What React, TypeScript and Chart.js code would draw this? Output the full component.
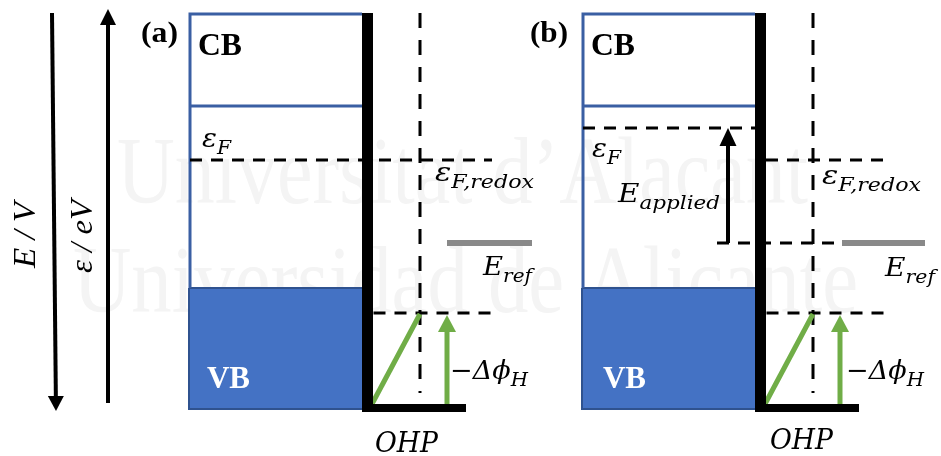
import { useEffect, useRef } from "react";
import { Chart, registerables } from "chart.js";
Chart.register(...registerables);

const WIDTH = 941;
const HEIGHT = 456;

// ---- panels ----
const PANEL_NAMES = ["(a)", "(b)"];
const PANEL_SHIFT = [0, 393];

// ---- energy levels (vertical diagram coordinate, px from top) ----
const BAND_TOP = 14;
const CB_EDGE = 106;
const VB_EDGE = 288;
const BAND_BOTTOM = 409;
const FERMI_LEVEL = [160, 128]; // εF in panel (a), (b)
const REDOX_LEVEL = 160;
const REF_LEVEL = 243;
const OHP_LEVEL = 313;
const METAL_LEVEL = 408;

// ---- horizontal positions (panel a; panel b shifted) ----
const SEMI_X = [190, 362];
const VB_X = [189, 365];
const INTERFACE_X = 367.5;
const INTERFACE_Y = [13, 412];
const OHP_X = 420;
const OHP_Y = [13, 393];
const LEVEL_END_X = 492;
const METAL_END_X = 466;
const REF_X = [447, 532];
const REF_X_B = [842, 925];
const REDOX_X_B = [766, 885];
const FERMI_X_B = [583, 755];
const APPLIED_BASE_X = [717, 842];
const DIAG_FROM = [372, 404];
const DIAG_TO = [420, 314];

// ---- arrows: [fromX, fromY, tipX, tipY] ----
const AXIS_ARROWS = [
  [52, 13, 56, 411],
  [108, 403, 108, 9],
];
const DELTA_ARROW = [447, 404, 447, 315];
const APPLIED_ARROW = [728, 243, 728, 128];

// ---- watermark ----
const WATERMARK_LINES = ["Universitat d\u2019Alacant", "Universidad de Alicante"];
const WATERMARK_POS = [
  [117, 203, 691],
  [73, 312, 785],
];

// ---- text labels: parts [text, isSubscript], x, y (baseline), width ----
type Part = [string, boolean];
type Label = { parts: Part[]; x: number; y: number; w: number; kind: string; rot?: boolean };
const LABELS: Label[] = [
  { parts: [["E / V", false]], x: 35, y: 268, w: 66, kind: "axis", rot: true },
  { parts: [["\u03b5 / eV", false]], x: 92, y: 273, w: 73, kind: "axis", rot: true },
  { parts: [[PANEL_NAMES[0], false]], x: 141, y: 42, w: 37, kind: "title" },
  { parts: [[PANEL_NAMES[1], false]], x: 530, y: 42, w: 38, kind: "title" },
  // panel a
  { parts: [["CB", false]], x: 198, y: 55, w: 44, kind: "band" },
  { parts: [["VB", false]], x: 207, y: 388, w: 43, kind: "bandw" },
  { parts: [["\u03b5", false], ["F", true]], x: 202, y: 147, w: 29, kind: "math" },
  { parts: [["\u03b5", false], ["F,redox", true]], x: 435, y: 181, w: 99, kind: "math" },
  { parts: [["E", false], ["ref", true]], x: 483, y: 275, w: 49, kind: "math" },
  { parts: [["\u2212\u0394\u03d5", false], ["H", true]], x: 450, y: 379, w: 78, kind: "math" },
  { parts: [["OHP", false]], x: 375, y: 452, w: 63, kind: "ohp" },
  // panel b
  { parts: [["CB", false]], x: 591, y: 55, w: 44, kind: "band" },
  { parts: [["VB", false]], x: 603, y: 388, w: 43, kind: "bandw" },
  { parts: [["\u03b5", false], ["F", true]], x: 592, y: 157, w: 29, kind: "math" },
  { parts: [["E", false], ["applied", true]], x: 618, y: 202, w: 102, kind: "math" },
  { parts: [["\u03b5", false], ["F,redox", true]], x: 822, y: 184, w: 99, kind: "math" },
  { parts: [["E", false], ["ref", true]], x: 885, y: 276, w: 50, kind: "math" },
  { parts: [["\u2212\u0394\u03d5", false], ["H", true]], x: 846, y: 379, w: 78, kind: "math" },
  { parts: [["OHP", false]], x: 770, y: 449, w: 63, kind: "ohp" },
];

// ---- styles ----
const BLUE_FILL = "#4472C4";
const BLUE_EDGE = "#3A5FA3";
const GREEN = "#70AD47";
const GREY = "#898989";
const BLACK = "#000000";
const DASH_H = [12, 9];
const DASH_V = [15, 12];

const FONTS: Record<string, [string, string, number, string]> = {
  axis: ['italic 32px "Liberation Serif"', 'italic 32px "Liberation Serif"', 0, BLACK],
  title: ['bold 30px "Liberation Serif"', 'bold 30px "Liberation Serif"', 0, BLACK],
  band: ['bold 32px "Liberation Serif"', 'bold 32px "Liberation Serif"', 0, BLACK],
  bandw: ['bold 32px "Liberation Serif"', 'bold 32px "Liberation Serif"', 0, "#FFFFFF"],
  math: ['italic 26px "DejaVu Serif"', 'italic 19px "DejaVu Serif"', 7, BLACK],
  ohp: ['italic 28px "DejaVu Serif"', 'italic 28px "DejaVu Serif"', 0, BLACK],
};

function line(points: number[][], color: string, width: number, dash: number[] = []) {
  return {
    type: "line" as const,
    data: points.map(([x, y]) => ({ x, y })),
    borderColor: color,
    backgroundColor: color,
    borderWidth: width,
    borderDash: dash,
    borderCapStyle: "butt" as const,
    borderJoinStyle: "miter" as const,
    pointRadius: 0,
    fill: false,
    tension: 0,
    clip: false as any,
  };
}

function shaft(a: number[], head: number) {
  const [fx, fy, tx, ty] = a;
  const len = Math.hypot(tx - fx, ty - fy);
  const ux = (tx - fx) / len;
  const uy = (ty - fy) / len;
  return [
    [fx, fy],
    [tx - ux * head * 0.8, ty - uy * head * 0.8],
  ];
}

function buildDatasets() {
  const ds: any[] = []; // bottom -> top
  PANEL_SHIFT.forEach((dx, p) => {
    // valence band fill
    ds.push({
      ...line([[VB_X[0] + dx, VB_EDGE], [VB_X[1] + dx, VB_EDGE]], BLUE_FILL, 0),
      fill: { target: { value: BAND_BOTTOM } },
      backgroundColor: BLUE_FILL,
    });
    ds.push(
      line(
        [
          [VB_X[0] + dx, VB_EDGE],
          [VB_X[1] + dx, VB_EDGE],
          [VB_X[1] + dx, BAND_BOTTOM],
          [VB_X[0] + dx, BAND_BOTTOM],
          [VB_X[0] + dx, VB_EDGE],
        ],
        "#2F528F",
        2
      )
    );
    // semiconductor outline + CB edge
    ds.push(line([[SEMI_X[1] + dx, BAND_TOP], [SEMI_X[0] + dx, BAND_TOP], [SEMI_X[0] + dx, VB_EDGE]], BLUE_EDGE, 3));
    ds.push(line([[SEMI_X[0] + dx, CB_EDGE], [SEMI_X[1] + dx, CB_EDGE]], BLUE_EDGE, 3));
    // dashed levels
    if (p === 0) {
      ds.push(line([[SEMI_X[0], FERMI_LEVEL[0]], [LEVEL_END_X, REDOX_LEVEL]], BLACK, 3, DASH_H));
    } else {
      ds.push(line([[FERMI_X_B[0], FERMI_LEVEL[1]], [FERMI_X_B[1], FERMI_LEVEL[1]]], BLACK, 3, DASH_H));
      ds.push(line([[REDOX_X_B[0], REDOX_LEVEL], [REDOX_X_B[1], REDOX_LEVEL]], BLACK, 3, DASH_H));
      ds.push(line([[APPLIED_BASE_X[0], REF_LEVEL], [APPLIED_BASE_X[1], REF_LEVEL]], BLACK, 3, DASH_H));
    }
    ds.push(line([[INTERFACE_X + 6 + dx, OHP_LEVEL], [LEVEL_END_X + dx, OHP_LEVEL]], BLACK, 3, DASH_H));
    ds.push(line([[OHP_X + dx, OHP_Y[0]], [OHP_X + dx, OHP_Y[1]]], BLACK, 3, DASH_V));
    // reference electrode level
    const rx = p === 0 ? REF_X : REF_X_B;
    ds.push(line([[rx[0], REF_LEVEL], [rx[1], REF_LEVEL]], GREY, 6));
    // potential drop across Helmholtz layer
    ds.push(line([[DIAG_FROM[0] + dx, DIAG_FROM[1]], [DIAG_TO[0] + dx, DIAG_TO[1]]], GREEN, 5));
    const da = [DELTA_ARROW[0] + dx, DELTA_ARROW[1], DELTA_ARROW[2] + dx, DELTA_ARROW[3]];
    ds.push(line(shaft(da, 17), GREEN, 5));
    // electrode / interface
    ds.push(line([[INTERFACE_X + dx, INTERFACE_Y[0]], [INTERFACE_X + dx, INTERFACE_Y[1]]], BLACK, 11));
    ds.push(line([[INTERFACE_X - 5 + dx, METAL_LEVEL], [METAL_END_X + dx, METAL_LEVEL]], BLACK, 8));
  });
  ds.push(line(shaft(APPLIED_ARROW, 18), BLACK, 4));
  AXIS_ARROWS.forEach((a) => ds.push(line(shaft(a, 15), BLACK, 4)));
  return ds.reverse();
}

const HEADS: { a: number[]; len: number; half: number; color: string }[] = [
  { a: AXIS_ARROWS[0], len: 15, half: 8, color: BLACK },
  { a: AXIS_ARROWS[1], len: 16, half: 8, color: BLACK },
  { a: APPLIED_ARROW, len: 18, half: 8.5, color: BLACK },
  ...PANEL_SHIFT.map((dx) => ({
    a: [DELTA_ARROW[0] + dx, DELTA_ARROW[1], DELTA_ARROW[2] + dx, DELTA_ARROW[3]],
    len: 17,
    half: 9,
    color: GREEN,
  })),
];

const diagramPlugin = {
  id: "diagram",
  beforeDatasetsDraw(chart: any) {
    const { ctx, scales } = chart;
    const xs = scales.x;
    const ys = scales.y;
    ctx.save();
    ctx.fillStyle = "#F4F4F4";
    ctx.font = '95px "Liberation Serif"';
    ctx.textBaseline = "alphabetic";
    WATERMARK_LINES.forEach((t, i) => {
      const [x, y, w] = WATERMARK_POS[i];
      const nat = ctx.measureText(t).width;
      ctx.save();
      ctx.translate(xs.getPixelForValue(x), ys.getPixelForValue(y));
      ctx.scale(w / nat, 1);
      ctx.fillText(t, 0, 0);
      ctx.restore();
    });
    ctx.restore();
  },
  afterDatasetsDraw(chart: any) {
    const { ctx, scales } = chart;
    const xs = scales.x;
    const ys = scales.y;
    ctx.save();
    HEADS.forEach(({ a, len, half, color }) => {
      const fx = xs.getPixelForValue(a[0]);
      const fy = ys.getPixelForValue(a[1]);
      const tx = xs.getPixelForValue(a[2]);
      const ty = ys.getPixelForValue(a[3]);
      const L = Math.hypot(tx - fx, ty - fy);
      const ux = (tx - fx) / L;
      const uy = (ty - fy) / L;
      const bx = tx - ux * len;
      const by = ty - uy * len;
      ctx.beginPath();
      ctx.moveTo(tx, ty);
      ctx.lineTo(bx - uy * half, by + ux * half);
      ctx.lineTo(bx + uy * half, by - ux * half);
      ctx.closePath();
      ctx.fillStyle = color;
      ctx.fill();
    });
    ctx.textBaseline = "alphabetic";
    LABELS.forEach((lab) => {
      const [mainFont, subFont, shift, color] = FONTS[lab.kind];
      let nat = 0;
      lab.parts.forEach(([t, sub]) => {
        ctx.font = sub ? subFont : mainFont;
        nat += ctx.measureText(t).width;
      });
      ctx.save();
      ctx.translate(xs.getPixelForValue(lab.x), ys.getPixelForValue(lab.y));
      if (lab.rot) ctx.rotate(-Math.PI / 2);
      ctx.scale(lab.w / nat, 1);
      ctx.fillStyle = color;
      let cx = 0;
      lab.parts.forEach(([t, sub]) => {
        ctx.font = sub ? subFont : mainFont;
        ctx.fillText(t, cx, sub ? shift : 0);
        cx += ctx.measureText(t).width;
      });
      ctx.restore();
    });
    ctx.restore();
  },
};

export default function App() {
  const ref = useRef<HTMLCanvasElement | null>(null);
  useEffect(() => {
    if (!ref.current) return;
    const chart = new Chart(ref.current, {
      type: "line",
      data: { datasets: buildDatasets() },
      options: {
        animation: false,
        responsive: false,
        devicePixelRatio: 1,
        events: [],
        layout: { padding: 0 },
        plugins: { legend: { display: false }, tooltip: { enabled: false } },
        elements: { point: { radius: 0 } },
        scales: {
          x: { type: "linear", min: 0, max: WIDTH, display: false },
          y: { type: "linear", min: 0, max: HEIGHT, reverse: true, display: false },
        },
      },
      plugins: [diagramPlugin],
    });
    return () => chart.destroy();
  }, []);
  return (
    <div style={{ position: "fixed", left: 0, top: 0, width: WIDTH, height: HEIGHT, background: "#fff" }}>
      <canvas ref={ref} width={WIDTH} height={HEIGHT} style={{ display: "block" }} />
    </div>
  );
}
